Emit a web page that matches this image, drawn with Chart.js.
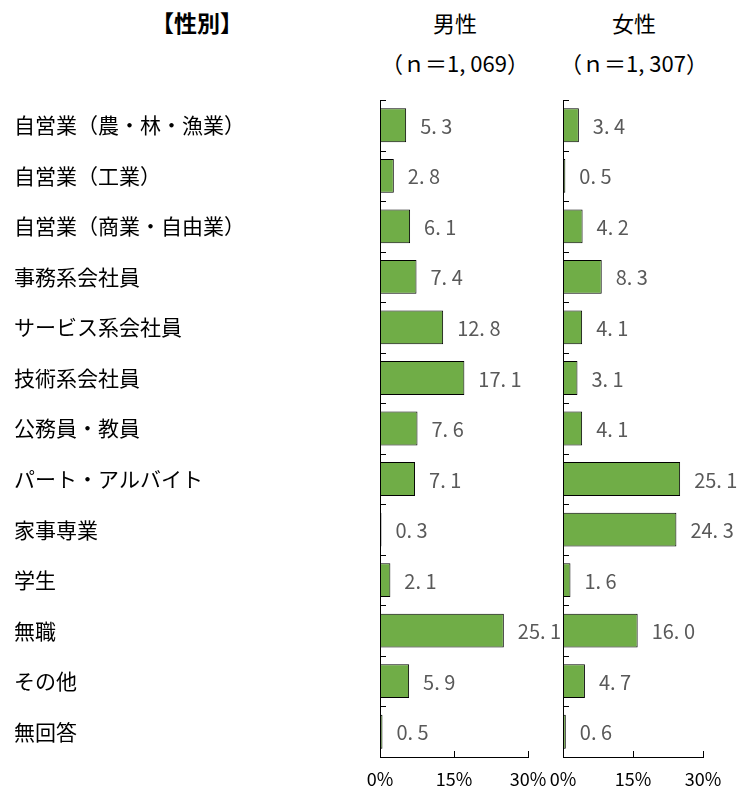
<!DOCTYPE html>
<html>
<head>
<meta charset="utf-8">
<script src="https://cdn.jsdelivr.net/npm/chart.js@4/dist/chart.umd.min.js"></script>
<style>
    html, body { margin: 0; padding: 0; background: #fff; }
    #wrap { position: relative; width: 739px; height: 792px; font-family: "Noto Sans CJK JP", sans-serif; }
    .hd { position: absolute; font-size: 22px; color: #000; text-align: center; white-space: nowrap; line-height: 1; }
    canvas { position: absolute; top: 0; }
</style>
</head>
<body>
<div id="wrap">
    <div class="hd" style="left:137px; top:11px; width:120px; font-size:23px; font-weight:bold;">【性別】</div>
    <div class="hd" style="left:380px; top:11px; width:150px;">男性</div>
    <div class="hd" style="left:380px; top:51px; width:150px;">（ｎ＝1, 069）</div>
    <div class="hd" style="left:559px; top:11px; width:150px;">女性</div>
    <div class="hd" style="left:559px; top:51px; width:150px;">（ｎ＝1, 307）</div>
    <canvas id="maleChart" width="739" height="792" style="left:0; width:739px; height:792px;"></canvas>
    <canvas id="femaleChart" width="194" height="792" style="left:545px; width:194px; height:792px;"></canvas>
</div>
<script>
// 職業別（性別）
const categories = [
    '自営業（農・林・漁業）', '自営業（工業）', '自営業（商業・自由業）', '事務系会社員',
    'サービス系会社員', '技術系会社員', '公務員・教員', 'パート・アルバイト',
    '家事専業', '学生', '無職', 'その他', '無回答'
];
const maleValues = [5.3, 2.8, 6.1, 7.4, 12.8, 17.1, 7.6, 7.1, 0.3, 2.1, 25.1, 5.9, 0.5];
const femaleValues = [3.4, 0.5, 4.2, 8.3, 4.1, 3.1, 4.1, 25.1, 24.3, 1.6, 16.0, 4.7, 0.6];
const xTicks = [0, 15, 30];

const FONT = '"Noto Sans CJK JP", sans-serif';

// inward tick marks, x labels and value labels
const decoPlugin = {
    id: 'deco',
    afterDraw(chart) {
        const ctx = chart.ctx;
        const xs = chart.scales.x;
        const ys = chart.scales.y;
        const area = chart.chartArea;
        ctx.save();
        ctx.strokeStyle = '#000';
        ctx.lineWidth = 1;
        ctx.beginPath();
        xTicks.forEach(v => {
            const px = Math.round(xs.getPixelForValue(v)) + 0.5;
            ctx.moveTo(px, area.bottom);
            ctx.lineTo(px, area.bottom - 6);
        });
        const n = categories.length;
        for (let i = 0; i < n; i++) {
            const py = Math.round(ys.getPixelForValue(i - 0.5)) + 0.5;
            ctx.moveTo(area.left, py);
            ctx.lineTo(area.left + 6, py);
        }
        ctx.stroke();

        ctx.fillStyle = '#000';
        ctx.font = '18px ' + FONT;
        ctx.textAlign = 'center';
        ctx.textBaseline = 'middle';
        xTicks.forEach(v => {
            ctx.fillText(v + '%', xs.getPixelForValue(v), area.bottom + 22);
        });

        ctx.fillStyle = '#595959';
        ctx.font = '20px ' + FONT;
        ctx.textAlign = 'left';
        const meta = chart.getDatasetMeta(0);
        chart.data.datasets[0].data.forEach((v, i) => {
            const bar = meta.data[i];
            ctx.fillText(v.toFixed(1).replace('.', '. '), bar.x + 14, bar.y + 1);
        });
        ctx.restore();
    }
};

function makeChart(id, values, showLabels, padding) {
    return new Chart(document.getElementById(id), {
        type: 'bar',
        data: {
            labels: categories,
            datasets: [{
                data: values,
                backgroundColor: '#70AD47',
                borderColor: '#000',
                borderWidth: 1,
                borderSkipped: false,
                barPercentage: 0.67,
                categoryPercentage: 1
            }]
        },
        options: {
            indexAxis: 'y',
            responsive: false,
            animation: false,
            layout: { padding: padding },
            plugins: {
                legend: { display: false },
                tooltip: { enabled: false }
            },
            scales: {
                x: {
                    min: 0,
                    max: 30,
                    afterFit: s => { s.height = 35; },
                    grid: { display: false, drawTicks: false },
                    border: { display: true, color: '#000', width: 1 },
                    ticks: { display: false }
                },
                y: {
                    afterFit: s => { s.width = showLabels ? 366 : 0; },
                    grid: { display: false, drawTicks: false },
                    border: { display: true, color: '#000', width: 1 },
                    ticks: {
                        display: showLabels,
                        crossAlign: 'far',
                        color: '#000',
                        font: { family: FONT, size: 21 }
                    }
                }
            }
        },
        plugins: [decoPlugin]
    });
}

makeChart('maleChart', maleValues, true, { left: 14, right: 211, top: 100, bottom: 0 });
makeChart('femaleChart', femaleValues, false, { left: 18, right: 36, top: 100, bottom: 0 });
</script>
</body>
</html>
